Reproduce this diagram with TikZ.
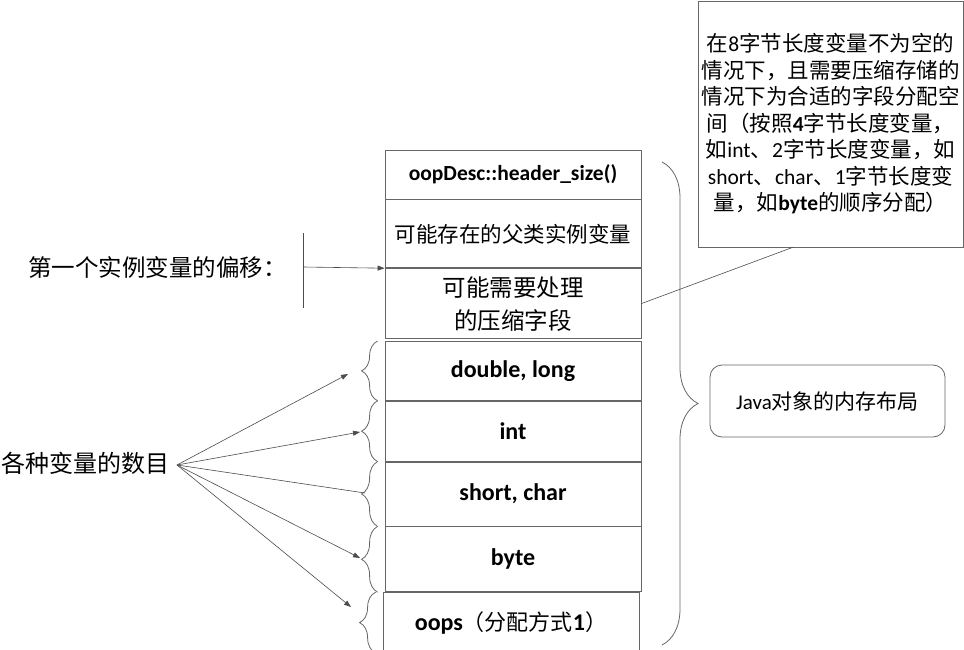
\documentclass[tikz,border=0pt]{standalone}
\usepackage{fontspec}
\setmainfont{Carlito}
\newfontfamily\cjk{Noto Sans CJK SC}
\usetikzlibrary{arrows.meta,positioning,decorations.pathreplacing}
\newcommand\zh[1]{{\cjk #1}}

\tikzset{
  cell/.style={draw=black!60, line width=0.8pt, minimum width=256pt, inner sep=0pt,
    align=center, font=\fontsize{23.5}{33}\selectfont},
  latin/.style={font=\bfseries\fontsize{24}{28}\selectfont},
  line/.style={draw=black!70, line width=0.6pt},
  arr/.style={line, -{Triangle[length=7pt,width=5pt]}},
  curly/.style={decorate, decoration={brace, amplitude=#1}, draw=black!60, line width=0.8pt},
}

\begin{document}
\begin{tikzpicture}[x=1pt, y=-1pt]
  \path[use as bounding box, fill=white] (0,0) rectangle (964,650);

  % the object layout
  \node[cell, latin, font=\bfseries\fontsize{21.5}{24}\selectfont, minimum height=49pt] (hdr) at (513,174.5) {oopDesc::header\_size()};
  \node[cell, font=\fontsize{21.5}{24}\selectfont, minimum height=68pt, below=0pt of hdr] (parent) {\zh{可能存在的父类实例变量}};
  \node[cell, minimum height=70pt, below=0pt of parent] (comp) {\zh{可能需要处理}\\\zh{的压缩字段}};
  \node[cell, latin, minimum height=59pt, below=2pt of comp] (dbl) {double, long};
  \node[cell, latin, minimum height=60pt, below=0pt of dbl] (int) {int};
  \node[cell, latin, minimum height=64pt, below=0pt of int] (shrt) {short, char};
  \node[cell, latin, minimum height=65pt, below=0pt of shrt] (byte) {byte};
  \node[cell, latin, minimum height=60pt, below=0pt of byte, xshift=-2pt] (oops)
    {oops{\mdseries\fontsize{22}{24}\selectfont\zh{（分配方式}}1{\mdseries\fontsize{22}{24}\selectfont\zh{）}}};

  % notes
  \node[draw=black!60, line width=0.8pt, minimum width=265pt, minimum height=246pt,
    inner sep=0pt, align=center, font=\fontsize{21.5}{26.5}\selectfont] (note) at (830.5,124)
    {\zh{在}8\zh{字节长度变量不为空的}\\
     \zh{情况下，且需要压缩存储的}\\
     \zh{情况下为合适的字段分配空}\\
     \zh{间（按照}\textbf{4}\zh{字节长度变量，}\\
     \zh{如}int\zh{、}2\zh{字节长度变量，如}\\
     short\zh{、}char\zh{、}1\zh{字节长度变}\\
     \zh{量，如}\textbf{byte}\zh{的顺序分配）}};
  \node[draw=black!60, line width=0.8pt, rounded corners=12pt, minimum width=235pt,
    minimum height=72pt, font=\fontsize{21}{24}\selectfont] (layout) at (827.5,401)
    {Java\zh{对象的内存布局}};
  \node[anchor=west, inner sep=0pt, font=\fontsize{23.5}{26}\selectfont] (offset) at (28,268)
    {\zh{第一个实例变量的偏移：}};
  \node[anchor=west, inner sep=0pt, font=\fontsize{24}{26}\selectfont] (count) at (1,463)
    {\zh{各种变量的数目}};

  % braces
  \draw[curly=36pt] (662,162) -- (662,645);
  \foreach \n in {dbl,int,shrt,byte,oops}
    \draw[curly=16pt] ([xshift=-7pt]\n.south west) -- ([xshift=-7pt]\n.north west);

  % connectors
  \coordinate (tick) at (303,267);
  \coordinate (fan) at (177,465);
  \coordinate (t1) at (348,374);
  \coordinate (t2) at (360,432);
  \coordinate (t3) at (365,493);
  \coordinate (t4) at (360,558);
  \coordinate (t5) at (351,607);
  \draw[line] ([yshift=34pt]tick) -- ([yshift=-41pt]tick);
  \draw[arr] (tick) -- (parent.south west);
  \draw[arr] (fan) -- (t1);
  \draw[arr] (fan) -- (t2);
  \draw[line] (fan) -- (t3);
  \draw[arr] (fan) -- (t4);
  \draw[arr] (fan) -- (t5);
  \draw[line] (comp.east) -- ([xshift=95pt]note.south west);
\end{tikzpicture}
\end{document}
